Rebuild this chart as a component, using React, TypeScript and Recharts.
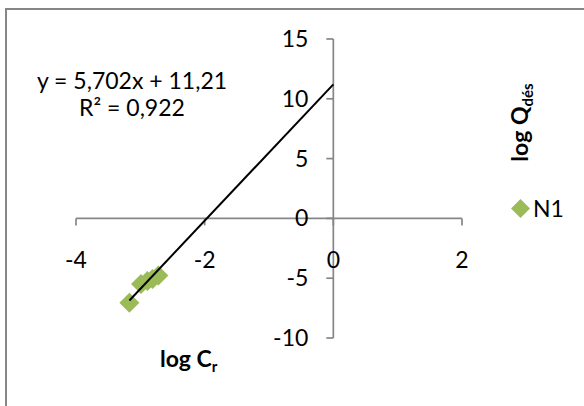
import React from 'react';
import { ScatterChart, Scatter, XAxis, YAxis, ReferenceLine, ReferenceDot, Legend } from 'recharts';

const FONT = 'Lato, "Liberation Sans", sans-serif';

// Data
const seriesName = 'N1';
const logCr = [-3.17, -2.99, -2.89, -2.81, -2.72];
const logQdes = [-7.06, -5.49, -5.24, -5.07, -4.77];

// Trendline (Excel linear regression shown on the chart)
const slope = 5.702;
const intercept = 11.21;
const trendEndX = 0;
const equationText = 'y = 5,702x + 11,21';
const r2Text = 'R² = 0,922';

const xTicks = [-4, -2, 0, 2];
const yTicks = [-10, -5, 0, 5, 10, 15];
const xDomain: [number, number] = [-4, 2];
const yDomain: [number, number] = [-10, 15];

const points = logCr.map((x, i) => ({ x, y: logQdes[i] }));
const trendStartX = Math.min(...logCr);
const trend = [
  { x: trendStartX, y: slope * trendStartX + intercept },
  { x: trendEndX, y: slope * trendEndX + intercept },
];

const GREEN = '#9BBB59';
const AXIS = '#868686';
const FS = 23;

const Diamond = (props: any) => {
  const { cx, cy } = props;
  const r = 10;
  return (
    <polygon
      points={`${cx},${cy - r} ${cx + r},${cy} ${cx},${cy + r} ${cx - r},${cy}`}
      fill={GREEN}
    />
  );
};

const XTick = ({ cx, cy, value }: any) => (
  <g>
    <line x1={cx} y1={cy} x2={cx} y2={cy + 7} stroke={AXIS} strokeWidth={1.7} />
    <text x={cx} y={cy + 50} textAnchor="middle" fontFamily={FONT} fontSize={FS} fill="#000">
      {String(value)}
    </text>
  </g>
);

const YTick = ({ cx, cy, value }: any) => (
  <g>
    <line x1={cx - 7} y1={cy} x2={cx} y2={cy} stroke={AXIS} strokeWidth={1.7} />
    <text x={cx - 25} y={cy + 8} textAnchor="end" fontFamily={FONT} fontSize={FS} fill="#000">
      {String(value)}
    </text>
  </g>
);

const renderLegend = (props: any) => {
  const items = (props.payload || []).filter((p: any) => p.value === seriesName);
  return (
    <div>
      {items.map((p: any) => (
        <div key={p.value} style={{ display: 'flex', alignItems: 'center', height: 22 }}>
          <svg width={21} height={21}>
            <polygon points="10.5,1 20,10.5 10.5,20 1,10.5" fill={GREEN} />
          </svg>
          <span style={{ marginLeft: 2, fontFamily: FONT, fontSize: FS, color: '#000', lineHeight: '22px' }}>
            {p.value}
          </span>
        </div>
      ))}
    </div>
  );
};

export default function App() {
  return (
    <div style={{ position: 'absolute', left: 0, top: 0, width: 584, height: 406, background: '#fff', overflow: 'hidden' }}>
      <div
        style={{
          position: 'absolute',
          left: 5,
          top: 8,
          width: 579,
          height: 398,
          borderLeft: '2px solid #868686',
          borderTop: '2px solid #868686',
          boxSizing: 'border-box',
        }}
      />
      <div style={{ position: 'absolute', left: 0, top: 0 }}>
        <ScatterChart width={584} height={406} margin={{ top: 39, right: 122, bottom: 68, left: 76 }}>
          <XAxis type="number" dataKey="x" domain={xDomain} ticks={xTicks} hide allowDataOverflow />
          <YAxis type="number" dataKey="y" domain={yDomain} ticks={yTicks} hide allowDataOverflow />
          <ReferenceLine y={0} stroke={AXIS} strokeWidth={1.7} />
          <ReferenceLine x={0} stroke={AXIS} strokeWidth={1.7} />
          {xTicks.map((t) => (
            <ReferenceDot key={'xt' + t} x={t} y={0} r={0} shape={(p: any) => <XTick {...p} value={t} />} />
          ))}
          {yTicks.map((t) => (
            <ReferenceDot key={'yt' + t} x={0} y={t} r={0} shape={(p: any) => <YTick {...p} value={t} />} />
          ))}
          <Scatter name={seriesName} data={points} fill={GREEN} shape={Diamond} isAnimationActive={false} />
          <Scatter
            name="trend"
            data={trend}
            line={{ stroke: '#000', strokeWidth: 2 }}
            shape={() => <g />}
            legendType="none"
            isAnimationActive={false}
          />
          <Legend
            layout="horizontal"
            align="center"
            verticalAlign="middle"
            wrapperStyle={{ left: 510, top: 197, width: 70 }}
            content={renderLegend}
          />
        </ScatterChart>
      </div>
      <svg width={584} height={406} style={{ position: 'absolute', left: 0, top: 0, pointerEvents: 'none' }}>
        <text x={132} y={89} textAnchor="middle" fontFamily={FONT} fontSize={FS} fill="#000">
          {equationText}
        </text>
        <text x={132} y={116} textAnchor="middle" fontFamily={FONT} fontSize={FS} fill="#000">
          {r2Text}
        </text>
        <text x={160} y={367} fontFamily={FONT} fontSize={23} fontWeight="bold" fill="#000">
          log C
          <tspan fontSize={15} dy={5}>r</tspan>
        </text>
        <text
          transform="translate(528,122.5) rotate(-90)"
          x={0}
          y={0}
          textAnchor="middle"
          fontFamily={FONT}
          fontSize={23}
          fontWeight="bold"
          fill="#000"
        >
          log Q
          <tspan fontSize={15} dy={5}>dés</tspan>
        </text>
      </svg>
    </div>
  );
}
